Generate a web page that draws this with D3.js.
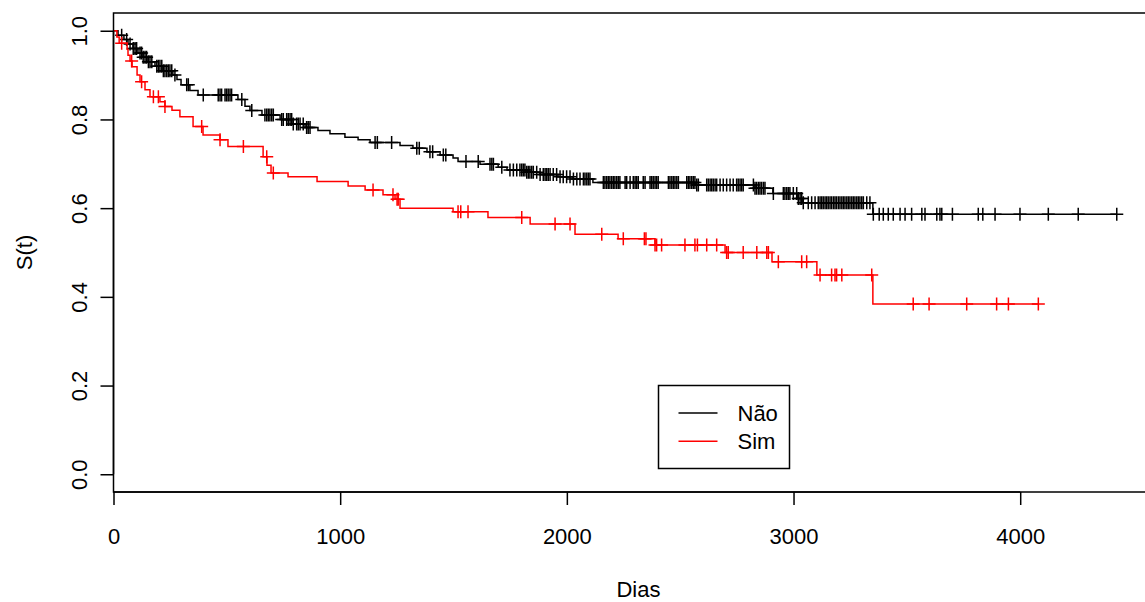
<!DOCTYPE html>
<html>
<head>
<meta charset="utf-8">
<script src="https://cdn.jsdelivr.net/npm/d3@7"></script>
<style>
    body { margin: 0; background: #fff; }
    svg text { font-family: "Liberation Sans", Arial, Helvetica, sans-serif; fill: #000; }
</style>
</head>
<body>
<div id="chart"></div>
<script>

// Kaplan-Meier estimates (days, S(t))
const groups = ["Não", "Sim"];
const groupColors = ["#000000", "#FF0000"];

// longest follow-up (sets the x range like plot.survfit)
const maxFollowUp = 4454;

const naoStepTimes = [0, 20, 46, 64, 86, 108, 130, 152, 183, 218, 262, 280, 298, 337, 373, 549, 580, 602, 655, 735,
    787, 845, 902, 955, 1021, 1079, 1132, 1264, 1321, 1383, 1441, 1498, 1520, 1617, 1697, 1736, 1816, 1882, 1961,
    2028, 2115, 2566, 2830, 2909, 3019, 3041, 3350];
const naoStepSurv = [1.0, 0.99, 0.98, 0.97, 0.96, 0.95, 0.94, 0.93, 0.92, 0.91, 0.90, 0.89, 0.878, 0.865, 0.855, 0.845,
    0.83, 0.82, 0.81, 0.80, 0.79, 0.782, 0.775, 0.768, 0.76, 0.754, 0.748, 0.741, 0.735, 0.727, 0.72, 0.713, 0.705,
    0.699, 0.692, 0.686, 0.681, 0.676, 0.671, 0.666, 0.658, 0.652, 0.645, 0.633, 0.622, 0.612, 0.586];
const naoCensor = [36, 58, 73, 87, 95, 102, 117, 124, 131, 139, 146, 154, 161, 169, 191, 198, 205, 213, 220, 227, 235,
    242, 249, 257, 271, 323, 330, 396, 462, 470, 477, 492, 499, 506, 514, 521, 566, 610, 668, 676, 683, 690, 698, 705,
    742, 749, 764, 771, 779, 786, 793, 808, 815, 823, 837, 852, 859, 867,
    1154, 1164, 1227, 1338, 1349, 1396, 1408, 1455, 1466, 1555, 1609, 1661, 1669, 1676, 1713, 1749, 1764, 1779, 1793,
    1801, 1808, 1815, 1823, 1830, 1837, 1845, 1852, 1867, 1882, 1896, 1904, 1911, 1918, 1926, 1940, 1955, 1970, 1984,
    1999, 2014, 2029, 2044, 2058, 2073, 2080, 2088, 2095, 2102,
    2161, 2168, 2176, 2183, 2190, 2198, 2205, 2212, 2220, 2227, 2234, 2257, 2264, 2279, 2293, 2301, 2308, 2315, 2337,
    2345, 2367, 2374, 2381, 2389, 2396, 2403, 2448, 2455, 2463, 2470, 2477, 2485, 2492, 2529, 2536, 2543, 2551, 2558,
    2565, 2573, 2580, 2617, 2624, 2632, 2639, 2646, 2654, 2661, 2676, 2690, 2705, 2720, 2734, 2749, 2756, 2764, 2771,
    2778, 2823, 2830, 2837, 2845, 2852, 2859, 2867, 2874, 2911, 2955, 2962, 2970, 2977, 2984, 2999, 3014, 3021, 3029,
    3036, 3043, 3065, 3080, 3095, 3109, 3117, 3124, 3131, 3139, 3146, 3153, 3161, 3168, 3176, 3183, 3190, 3198, 3205,
    3213, 3220, 3227, 3235, 3242, 3249, 3257, 3264, 3271, 3279, 3286, 3293, 3301, 3308, 3323, 3337, 3352,
    3378, 3396, 3418, 3440, 3470, 3492, 3521, 3566, 3580, 3632, 3646, 3654, 3701, 3815, 3835, 3889, 3999, 4124, 4256,
    4426];

const simStepTimes = [0, 15, 25, 60, 64, 73, 82, 104, 117, 139, 161, 205, 227, 258, 293, 351, 395, 470, 505, 660, 677,
    695, 770, 898, 1035, 1110, 1189, 1242, 1264, 1498, 1652, 1838, 2036, 2226, 2389, 2698, 2905, 3103, 3350];
const simStepSurv = [1.0, 0.986, 0.972, 0.958, 0.945, 0.932, 0.919, 0.90, 0.885, 0.867, 0.851, 0.84, 0.829, 0.821,
    0.806, 0.784, 0.765, 0.754, 0.739, 0.716, 0.697, 0.679, 0.671, 0.66, 0.65, 0.641, 0.63, 0.62, 0.60, 0.592, 0.579,
    0.564, 0.541, 0.531, 0.517, 0.50, 0.479, 0.449, 0.384];
const simCensor = [36, 80, 124, 176, 198, 227, 389, 470, 573, 676, 705, 1145, 1233, 1251, 1256, 1520, 1532, 1564, 1801,
    1948, 2014, 2154, 2249, 2342, 2349, 2389, 2396, 2418, 2521, 2565, 2576, 2617, 2661, 2705, 2712, 2778, 2838, 2882,
    2889, 2933, 3036, 3058, 3117, 3168, 3183, 3190, 3213, 3345, 3528, 3598, 3764, 3896, 3948, 4080];

const xTicks = [0, 1000, 2000, 3000, 4000];
const yTicks = [0.0, 0.2, 0.4, 0.6, 0.8, 1.0];

const xLabel = "Dias";
const yLabel = "S(t)";


/*
 * Drawing
 */

const width = 1145, height = 602;
const plot = {left: 113.5, right: 1163.5, top: 13, bottom: 492};

const svg = d3.select("#chart").append("svg")
    .attr("width", width)
    .attr("height", height);

// survfit-style x range: starts at 0, 4% extra on the right
const x = d3.scaleLinear()
    .domain([0, maxFollowUp * 1.04])
    .range([plot.left, plot.right]);

const y = d3.scaleLinear()
    .domain([-0.04, 1.04])
    .range([plot.bottom, plot.top]);

const series = [
    {name: groups[0], color: groupColors[0], times: naoStepTimes, surv: naoStepSurv, censor: naoCensor},
    {name: groups[1], color: groupColors[1], times: simStepTimes, surv: simStepSurv, censor: simCensor}
];

function survAt(s, t) {
    let i = d3.bisectRight(s.times, t) - 1;
    return s.surv[Math.max(i, 0)];
}

let stepLine = d3.line()
    .x(d => x(d[0]))
    .y(d => y(d[1]))
    .curve(d3.curveStepAfter);

let markSize = 6.5;

series.forEach(function (s) {
    let pts = s.times.map((t, i) => [t, s.surv[i]]);
    let tEnd = d3.max([d3.max(s.censor), d3.max(s.times)]);
    pts.push([tEnd, s.surv[s.surv.length - 1]]);

    svg.append("path")
        .attr("d", stepLine(pts))
        .attr("fill", "none")
        .attr("stroke", s.color)
        .attr("stroke-width", 1.5);

    // censoring marks (+)
    svg.append("g")
        .selectAll("path")
        .data(s.censor)
        .enter()
        .append("path")
        .attr("d", function (t) {
            let cx = x(t), cy = y(survAt(s, t));
            return "M" + (cx - markSize) + "," + cy + "H" + (cx + markSize) +
                "M" + cx + "," + (cy - markSize) + "V" + (cy + markSize);
        })
        .attr("stroke", s.color)
        .attr("stroke-width", 1.5)
        .attr("fill", "none");
});

// box
svg.append("rect")
    .attr("x", plot.left)
    .attr("y", plot.top)
    .attr("width", plot.right - plot.left)
    .attr("height", plot.bottom - plot.top)
    .attr("fill", "none")
    .attr("stroke", "#000")
    .attr("stroke-width", 1.5);

// axes
let fontSize = 22;

let xAxis = svg.append("g")
    .attr("transform", "translate(0," + plot.bottom + ")")
    .call(d3.axisBottom(x).tickValues(xTicks).tickSize(13).tickPadding(23).tickFormat(d3.format("d")));

let yAxis = svg.append("g")
    .attr("transform", "translate(" + plot.left + ",0)")
    .call(d3.axisLeft(y).tickValues(yTicks).tickSize(13).tickFormat(d3.format(".1f")));

[xAxis, yAxis].forEach(function (a) {
    a.select(".domain").attr("stroke", "#000").attr("stroke-width", 1.5);
    a.selectAll(".tick line").attr("stroke", "#000").attr("stroke-width", 1.5);
    a.selectAll("text")
        .style("font-size", fontSize + "px")
        .attr("font-family", null);
});

// R draws the axis line only between first and last tick
xAxis.select(".domain").attr("d", "M" + x(xTicks[0]) + ",0H" + x(xTicks[xTicks.length - 1]));
yAxis.select(".domain").attr("d", "M0," + y(yTicks[0]) + "V" + y(yTicks[yTicks.length - 1]));

yAxis.selectAll(".tick text")
    .attr("x", null)
    .attr("dy", null)
    .attr("text-anchor", "middle")
    .attr("transform", "translate(-27,0) rotate(-90)");

// axis titles
svg.append("text")
    .attr("x", (plot.left + plot.right) / 2)
    .attr("y", 597)
    .attr("text-anchor", "middle")
    .style("font-size", fontSize + "px")
    .text(xLabel);

svg.append("text")
    .attr("transform", "translate(" + 32 + "," + (plot.top + plot.bottom) / 2 + ") rotate(-90)")
    .attr("text-anchor", "middle")
    .style("font-size", fontSize + "px")
    .text(yLabel);

// legend
let legend = svg.append("g")
    .attr("transform", "translate(658.5,385.5)");

legend.append("rect")
    .attr("width", 131)
    .attr("height", 83)
    .attr("fill", "#fff")
    .attr("stroke", "#000")
    .attr("stroke-width", 1.5);

let legendItem = legend.selectAll(".legend-item")
    .data(series)
    .enter()
    .append("g")
    .attr("class", "legend-item")
    .attr("transform", (d, i) => "translate(0," + (27.5 + i * 28.3) + ")");

legendItem.append("line")
    .attr("x1", 20)
    .attr("x2", 59)
    .attr("stroke", d => d.color)
    .attr("stroke-width", 1.5);

legendItem.append("text")
    .attr("x", 79)
    .attr("dy", "0.35em")
    .style("font-size", fontSize + "px")
    .text(d => d.name);

</script>
</body>
</html>
